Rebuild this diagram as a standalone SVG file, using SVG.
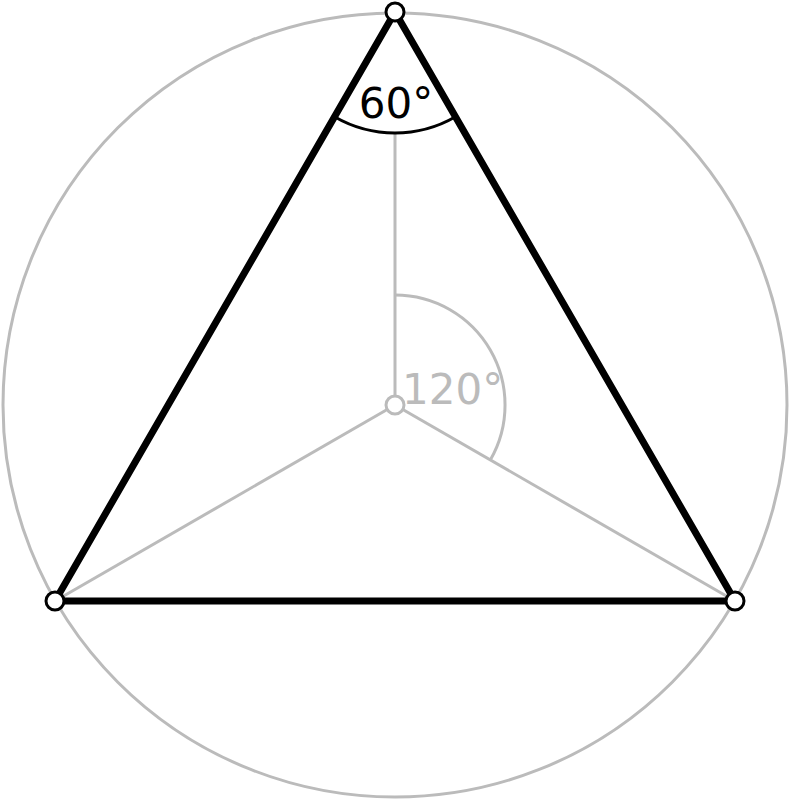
<svg xmlns="http://www.w3.org/2000/svg" width="790" height="800" viewBox="0 0 790 800">
<style>
.grey{fill:none;stroke:#bbbbbb;stroke-width:3}
.tri{fill:none;stroke:#000;stroke-width:7;stroke-linejoin:round}
.pt{fill:#fff;stroke:#000;stroke-width:3}
.lbl{font-family:"DejaVu Sans",sans-serif;font-size:42px}
</style>
<rect width="790" height="800" fill="#fff"/>
<g id="circumcircle"><circle class="grey" cx="395" cy="405" r="392"/></g>
<g id="connectors">
<line class="grey" x1="395" y1="405" x2="395" y2="133"/>
<line class="grey" x1="395" y1="405" x2="55" y2="601"/>
<line class="grey" x1="395" y1="405" x2="735" y2="601"/>
<path class="grey" d="M395,295 A110,110 0 0 1 490.3,460"/>
<polygon class="tri" points="395,12 735,601 55,601"/>
<path fill="none" stroke="#000" stroke-width="3" d="M334.5,116.8 A121,121 0 0 0 455.5,116.8"/>
</g>
<g id="label60"><text class="lbl" x="396" y="118" text-anchor="middle" fill="#000">60°</text></g>
<g id="label120"><text class="lbl" x="402" y="404" fill="#bbbbbb">120°</text></g>
<g id="center"><circle cx="395" cy="405" r="9" fill="#fff" stroke="#bbbbbb" stroke-width="3"/></g>
<g id="vTop"><circle class="pt" cx="395" cy="12" r="9"/></g>
<g id="vLeft"><circle class="pt" cx="55" cy="601" r="9"/></g>
<g id="vRight"><circle class="pt" cx="735" cy="601" r="9"/></g>
</svg>
